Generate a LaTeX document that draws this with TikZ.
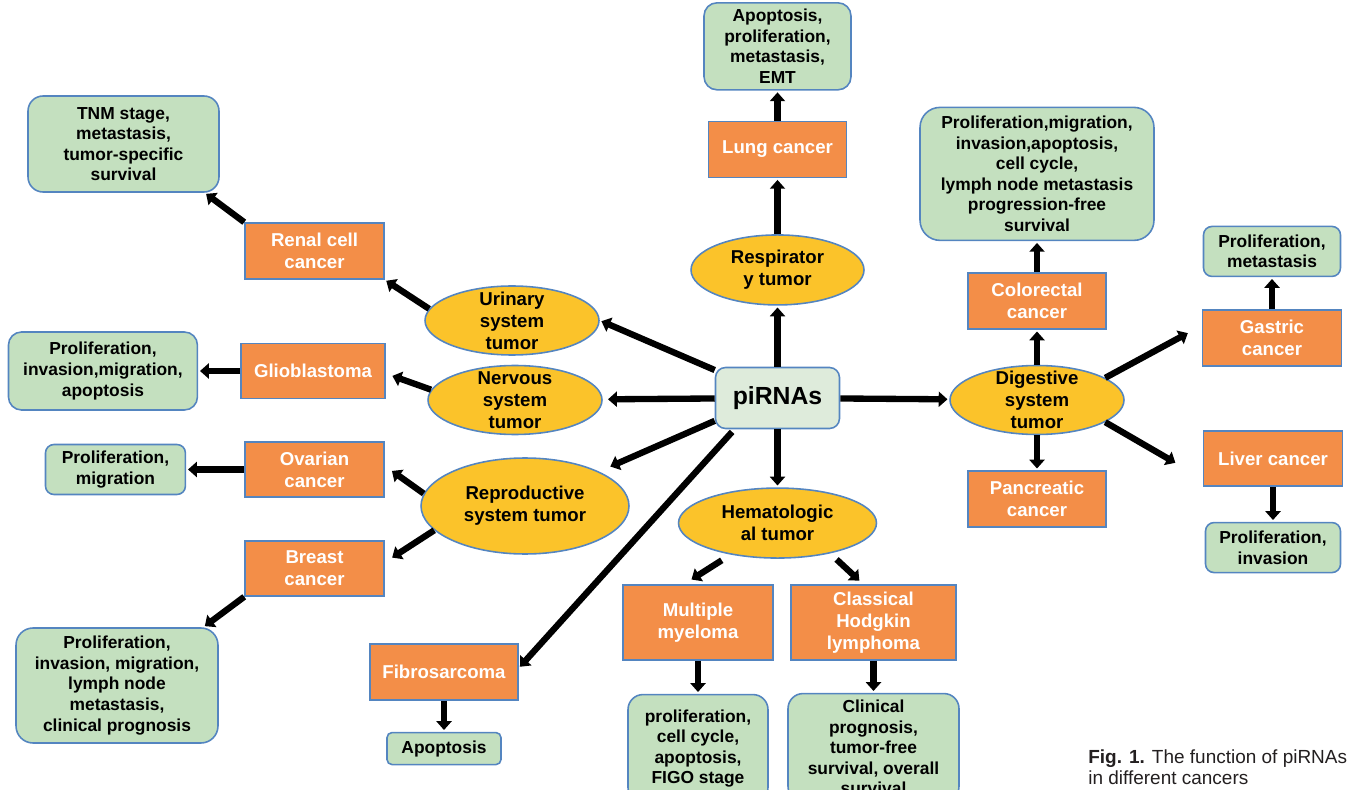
\documentclass[tikz,border=0pt]{standalone}
\usepackage{fontspec}
\setmainfont{Liberation Sans}
\usepackage{tikz}
\usetikzlibrary{shapes.geometric,arrows.meta,positioning}
\definecolor{cancerorange}{RGB}{243,142,72}
\definecolor{outgreen}{RGB}{196,224,191}
\definecolor{tumoryellow}{RGB}{251,195,42}
\definecolor{edgeblue}{RGB}{84,133,192}
\definecolor{pifill}{RGB}{222,235,219}
\definecolor{captiongray}{RGB}{35,31,32}

\begin{document}
\begin{tikzpicture}[
    x=0.02cm, y=-0.02cm,
    cancer/.style={rectangle, draw=edgeblue, line width=0.9pt, fill=cancerorange, text=white, align=center, inner sep=1pt, minimum width=2.78cm, minimum height=1.12cm, font=\bfseries\fontsize{10.6}{12.6}\selectfont},
    outcome/.style={rectangle, rounded corners=#1, draw=edgeblue, line width=0.9pt, fill=outgreen, align=center, inner sep=1pt, font=\bfseries\fontsize{9.9}{11.7}\selectfont},
    outcome/.default=0.26cm,
    tumor/.style={ellipse, draw=edgeblue, line width=0.9pt, fill=tumoryellow, inner sep=0pt, minimum width=3.48cm, minimum height=1.38cm},
    tumortext/.style={align=center, inner sep=0pt, font=\bfseries\fontsize{10.6}{12.6}\selectfont},
    arr/.style={line width=3.6pt, -{Triangle[length=5pt,width=8.5pt]}, shorten >=1pt}
]
    \clip (0,0) rectangle (1352,790);

    \node[rectangle, rounded corners=0.2cm, draw=edgeblue, line width=0.9pt, fill=pifill, minimum width=2.48cm, minimum height=1.22cm, font=\bfseries\fontsize{14.1}{16}\selectfont] (pi) at (777.5,398) {piRNAs};

    \node[tumor, minimum width=3.46cm, minimum height=1.40cm, above=1.22cm of pi, label={[tumortext]center:{Respirator\\y tumor}}] (resp) {};
    \node[cancer, minimum width=2.76cm, above=1.12cm of resp] (lung) {Lung cancer};
    \node[outcome, minimum width=2.94cm, minimum height=1.74cm, above=0.6cm of lung] (lungout) {Apoptosis,\\proliferation,\\metastasis,\\EMT};

    \node[tumor, label={[tumortext]center:{Urinary\\system\\tumor}}] (uri) at (512,320.5) {};
    \node[cancer] (renal) at (314.5,251) {Renal cell\\cancer};
    \node[outcome=0.3cm, minimum width=3.82cm, minimum height=1.92cm] (tnm) at (123.5,144) {TNM stage,\\metastasis,\\tumor-specific\\survival};

    \node[tumor, label={[tumortext]center:{Nervous\\system\\tumor}}] (nerv) at (515,400) {};
    \node[cancer, minimum width=2.88cm, minimum height=1.10cm] (glio) at (313,371) {Glioblastoma};
    \node[outcome, minimum width=3.78cm, minimum height=1.56cm, left=0.84cm of glio] (glioout) {Proliferation,\\invasion,migration,\\apoptosis};

    \node[tumor, minimum width=4.16cm, minimum height=1.92cm, label={[tumortext]center:{Reproductive\\system tumor}}] (repro) at (525,506) {};
    \node[cancer, minimum height=1.10cm] (ovar) at (314.5,469.5) {Ovarian\\cancer};
    \node[outcome=0.17cm, minimum width=2.80cm, minimum height=1.00cm, left=1.16cm of ovar] (ovout) {Proliferation,\\migration};
    \node[cancer, minimum height=1.10cm] (breast) at (314.5,568.5) {Breast\\cancer};
    \node[outcome=0.34cm, minimum width=4.04cm, minimum height=2.30cm] (brout) at (117,685.5) {Proliferation,\\invasion, migration,\\lymph node\\metastasis,\\clinical prognosis};

    \node[cancer, minimum width=2.96cm] (fib) at (444,672) {Fibrosarcoma};
    \node[outcome=0.1cm, minimum width=2.28cm, minimum height=0.64cm, below=0.62cm of fib] (fibout) {Apoptosis};

    \node[tumor, minimum width=3.96cm, minimum height=1.40cm, below=1.16cm of pi, label={[tumortext]center:{Hematologic\\al tumor}}] (hem) {};
    \node[cancer, minimum width=3.00cm, minimum height=1.50cm] (mm) at (698,622.5) {Multiple\\myeloma};
    \node[cancer, minimum width=3.30cm, minimum height=1.50cm] (chl) at (873.5,622.5) {Classical\\Hodgkin\\lymphoma};
    \node[outcome=0.3cm, minimum width=2.80cm, minimum height=2.16cm, below=0.66cm of mm] (mmout) {proliferation,\\cell cycle,\\apoptosis,\\FIGO stage};
    \node[outcome=0.3cm, minimum width=3.42cm, minimum height=2.16cm, below=0.64cm of chl] (chlout) {Clinical\\prognosis,\\tumor-free\\survival, overall\\survival};

    \node[tumor, label={[tumortext]center:{Digestive\\system\\tumor}}] (dig) at (1037,400) {};
    \node[cancer, minimum width=2.76cm, above=0.7cm of dig] (colo) {Colorectal\\cancer};
    \node[outcome=0.4cm, minimum width=4.68cm, minimum height=2.66cm, above=0.62cm of colo] (coloout) {Proliferation,migration,\\invasion,apoptosis,\\cell cycle,\\lymph node metastasis\\progression-free\\survival};
    \node[cancer, minimum width=2.76cm, below=0.7cm of dig] (panc) {Pancreatic\\cancer};
    \node[cancer] (gastric) at (1272,338) {Gastric\\cancer};
    \node[outcome=0.17cm, minimum width=2.74cm, minimum height=1.00cm, above=0.64cm of gastric] (gasout) {Proliferation,\\metastasis};
    \node[cancer, minimum height=1.10cm] (liver) at (1273,458.5) {Liver cancer};
    \node[outcome=0.17cm, minimum width=2.70cm, minimum height=1.00cm, below=0.7cm of liver] (livout) {Proliferation,\\invasion};

    \node[anchor=west, align=left, inner sep=0pt, text=captiongray, font=\fontsize{10.8}{12}\selectfont] (caption) at (1088,767) {\textbf{Fig. 1.} The function of piRNAs\\in different cancers};

    \draw[arr] (pi) -- (resp);
    \draw[arr] (resp) -- (lung);
    \draw[arr] (lung) -- (lungout);
    \draw[arr] (pi.156) -- (uri.east);
    \draw[arr, shorten >=3pt] (pi) -- (nerv);
    \draw[arr, shorten >=7pt] (pi.200) -- (repro.25);
    \draw[arr, shorten <=2pt] (pi.216) -- (fib.3);
    \draw[arr] (pi) -- (hem);
    \draw[arr] (pi) -- (dig);

    \draw[arr] (uri.172) -- (renal.south east);
    \draw[arr] (renal.north west) -- (tnm.-31);
    \draw[arr, shorten >=4pt] (nerv.173) -- (glio.-2);
    \draw[arr] (glio) -- (glioout);
    \draw[arr, shorten >=5pt] (repro.173) -- (ovar.3);
    \draw[arr, shorten >=5pt] (repro.195) -- (breast.5);
    \draw[arr] (ovar) -- (ovout);
    \draw[arr] (breast.south west) -- (brout.34);
    \draw[arr] (fib) -- (fibout);

    \draw[arr, shorten <=6pt, shorten >=5pt] (hem.214) -- (mm.110);
    \draw[arr, shorten <=5pt, shorten >=3pt] (hem.-30) -- (chl.105);
    \draw[arr] (mm) -- (mmout);
    \draw[arr] (chl) -- (chlout);

    \draw[arr] (dig) -- (colo);
    \draw[arr] (colo) -- (coloout);
    \draw[arr, shorten >=9pt] (dig.18) -- (gastric.170);
    \draw[arr, shorten >=18pt] (dig.-18) -- (liver.196);
    \draw[arr] (dig) -- (panc);
    \draw[arr] (gastric) -- (gasout);
    \draw[arr] (liver) -- (livout);
\end{tikzpicture}
\end{document}
